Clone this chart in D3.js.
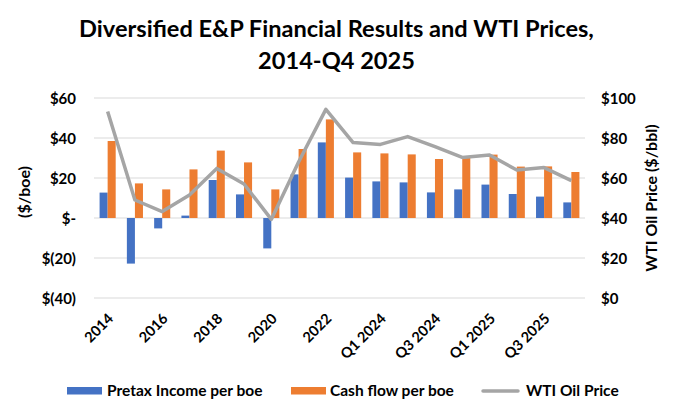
<!DOCTYPE html>
<html>
<head>
<meta charset="utf-8">
<script src="https://cdn.jsdelivr.net/npm/d3@7"></script>
<style>
  body { margin: 0; background: #fff; }
  text { font-family: Lato, "Open Sans", sans-serif; font-weight: bold; fill: #000; }
</style>
</head>
<body>
<div id="chart"></div>
<script>
var categories = ["2014", "2015", "2016", "2017", "2018", "2019", "2020", "2021", "2022", "2023",
                  "Q1 2024", "Q2 2024", "Q3 2024", "Q4 2024", "Q1 2025", "Q2 2025", "Q3 2025", "Q4 2025"];
var pretaxIncome = [12.7, -22.8, -5.2, 1.2, 19, 11.8, -15.2, 21.8, 37.8, 20.2,
                    18.3, 17.8, 12.8, 14.3, 16.7, 12, 10.7, 7.8];
var cashFlow = [38.5, 17.3, 14.3, 24.3, 33.7, 27.8, 14.3, 34.5, 49.3, 32.8,
                32.3, 31.8, 29.5, 30.3, 31.7, 25.7, 25.8, 23];
var wtiPrice = [93.2, 49, 43.2, 51.5, 64.8, 57, 39.3, 68, 94.3, 77.7,
                76.8, 80.7, 75.7, 70.3, 71.5, 64, 65.2, 58.7];
var leftTicks = [-40, -20, 0, 20, 40, 60];
var rightTicks = [0, 20, 40, 60, 80, 100];
var shownLabels = ["2014", "2016", "2018", "2020", "2022", "Q1 2024", "Q3 2024", "Q1 2025", "Q3 2025"];

function init()
{
    var w = 680;
    var h = 418;
    var left = 94, right = 585, top = 98, bottom = 298;

    var svg = d3.select("#chart")
                .append("svg")
                .attr("width", w)
                .attr("height", h);

    // title
    svg.append("text")
        .attr("x", 336.5).attr("y", 37)
        .attr("text-anchor", "middle")
        .style("font-size", "23.6px")
        .text("Diversified E&P Financial Results and WTI Prices,");
    svg.append("text")
        .attr("x", 336.5).attr("y", 69)
        .attr("text-anchor", "middle")
        .style("font-size", "23.6px")
        .text("2014-Q4 2025");

    var xScale = d3.scaleBand()
                .domain(categories)
                .range([left, right])
                .paddingInner(0.41)
                .paddingOuter(0.205);

    var inner = d3.scaleBand()
                .domain(["pretax", "cash"])
                .range([0, xScale.bandwidth()]);

    var yLeft = d3.scaleLinear().domain([-40, 60]).range([bottom, top]);
    var yRight = d3.scaleLinear().domain([0, 100]).range([bottom, top]);

    // gridlines
    svg.append("g")
        .selectAll("line")
        .data(leftTicks)
        .enter()
        .append("line")
        .attr("x1", left).attr("x2", right)
        .attr("y1", function(d){ return yLeft(d); })
        .attr("y2", function(d){ return yLeft(d); })
        .attr("stroke", "#d9d9d9")
        .attr("stroke-width", 1);

    // bars
    svg.append("g")
        .selectAll("rect")
        .data(pretaxIncome)
        .enter()
        .append("rect")
        .attr("x", function(d, i){ return xScale(categories[i]) + inner("pretax"); })
        .attr("y", function(d){ return yLeft(Math.max(0, d)); })
        .attr("width", inner.bandwidth())
        .attr("height", function(d){ return Math.abs(yLeft(d) - yLeft(0)); })
        .attr("fill", "#4472c4");

    svg.append("g")
        .selectAll("rect")
        .data(cashFlow)
        .enter()
        .append("rect")
        .attr("x", function(d, i){ return xScale(categories[i]) + inner("cash"); })
        .attr("y", function(d){ return yLeft(Math.max(0, d)); })
        .attr("width", inner.bandwidth())
        .attr("height", function(d){ return Math.abs(yLeft(d) - yLeft(0)); })
        .attr("fill", "#ed7d31");

    // WTI line
    var line = d3.line()
                .x(function(d, i){ return xScale(categories[i]) + xScale.bandwidth() / 2; })
                .y(function(d){ return yRight(d); });

    svg.append("path")
        .datum(wtiPrice)
        .attr("d", line)
        .attr("fill", "none")
        .attr("stroke", "#a5a5a5")
        .attr("stroke-width", 3.5)
        .attr("stroke-linejoin", "round");

    // axes
    var leftAxis = d3.axisLeft(yLeft)
                .tickValues(leftTicks)
                .tickSize(0)
                .tickPadding(0)
                .tickFormat(function(d){
                    if (d === 0) return "$-";
                    if (d < 0) return "$(" + Math.abs(d) + ")";
                    return "$" + d;
                });
    var gl = svg.append("g")
        .attr("transform", "translate(76,0)")
        .call(leftAxis);
    gl.select(".domain").remove();
    gl.selectAll("text").style("font-size", "15px").attr("dy", "0.35em");

    var rightAxis = d3.axisRight(yRight)
                .tickValues(rightTicks)
                .tickSize(0)
                .tickPadding(0)
                .tickFormat(function(d){ return "$" + d; });
    var gr = svg.append("g")
        .attr("transform", "translate(601,0)")
        .call(rightAxis);
    gr.select(".domain").remove();
    gr.selectAll("text").style("font-size", "15px").attr("dy", "0.35em");

    var xAxis = d3.axisBottom(xScale)
                .tickValues(shownLabels)
                .tickSize(0)
                .tickPadding(0);
    var gx = svg.append("g")
        .attr("transform", "translate(3," + (bottom + 18) + ")")
        .call(xAxis);
    gx.select(".domain").remove();
    gx.selectAll("text")
        .style("font-size", "14.5px")
        .attr("text-anchor", "end")
        .attr("dy", "0.35em")
        .attr("dx", 0)
        .attr("y", 0)
        .attr("transform", "rotate(-45)");

    // axis titles
    svg.append("text")
        .attr("transform", "translate(30,192) rotate(-90)")
        .attr("text-anchor", "middle")
        .style("font-size", "16px")
        .text("($/boe)");
    svg.append("text")
        .attr("transform", "translate(657,198) rotate(-90)")
        .attr("text-anchor", "middle")
        .style("font-size", "16px")
        .text("WTI Oil Price ($/bbl)");

    // legend
    var legend = svg.append("g").attr("transform", "translate(0,391)");
    legend.append("rect").attr("x", 67).attr("y", -4).attr("width", 35).attr("height", 7.5).attr("fill", "#4472c4");
    legend.append("text").attr("x", 107).attr("dy", "0.35em").style("font-size", "15.5px").text("Pretax Income per boe");
    legend.append("rect").attr("x", 291).attr("y", -4).attr("width", 35).attr("height", 7.5).attr("fill", "#ed7d31");
    legend.append("text").attr("x", 330).attr("dy", "0.35em").style("font-size", "15.5px").text("Cash flow per boe");
    legend.append("line").attr("x1", 483).attr("x2", 518).attr("stroke", "#a5a5a5").attr("stroke-width", 3.5).attr("stroke-linecap", "round");
    legend.append("text").attr("x", 526).attr("dy", "0.35em").style("font-size", "15.5px").text("WTI Oil Price");
}
window.onload = init;
</script>
</body>
</html>
